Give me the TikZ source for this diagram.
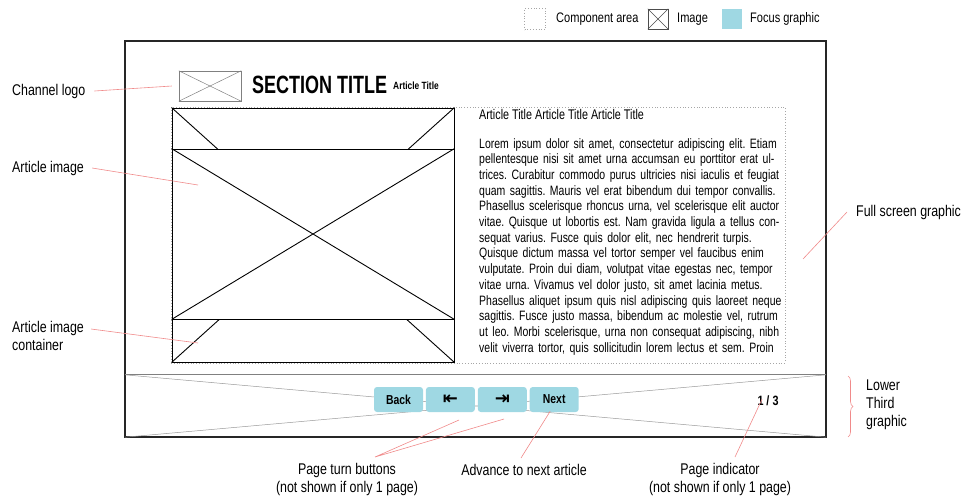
\documentclass[tikz,border=0pt]{standalone}
\usepackage{fontspec}
\setmainfont[FakeStretch=0.8]{Liberation Sans}
\newfontfamily\titlefont[FakeStretch=0.72]{Liberation Sans}
\newfontfamily\bodyfont[FakeStretch=0.77]{Liberation Sans}
\newfontfamily\arrowfont{DejaVu Sans}
\usepackage{xcolor}
\usetikzlibrary{positioning}
\usetikzlibrary{decorations.pathreplacing}
\definecolor{focus}{HTML}{9FD8E3}
\definecolor{callout}{HTML}{F08A8A}
\newcommand{\bline}[1]{\makebox[304pt][s]{#1}}

\tikzset{
  frame/.style={draw=black!85,line width=1.6pt,inner sep=0pt},
  imgbox/.style={draw,line width=0.9pt,fill=white,inner sep=0pt},
  comparea/.style={draw=gray!70,dotted,line width=0.8pt,inner sep=0pt},
  focusbtn/.style={fill=focus,rounded corners=3pt,minimum width=49pt,minimum height=25pt,inner sep=0pt,font=\bfseries\fontsize{13}{13}\selectfont},
  callout/.style={draw=callout,line width=0.6pt},
  lbl/.style={inner sep=0pt,font=\fontsize{15.5}{18}\selectfont},
  leglbl/.style={inner sep=0pt,anchor=west,font=\fontsize{13.8}{16}\selectfont}
}

\begin{document}
\frenchspacing
\begin{tikzpicture}[x=1pt,y=-1pt]
  \useasboundingbox (0,0) rectangle (966,499);

  % legend
  \node[comparea,minimum size=21pt] (legarea) at (535,19) {};
  \node[leglbl] (legareatxt) at (556,19) {Component area};
  \node[draw=black!70,minimum size=20pt,inner sep=0pt] (legimg) at (658,19) {};
  \draw[black!70] (legimg.north west) -- (legimg.south east) (legimg.south west) -- (legimg.north east);
  \node[leglbl] (legimgtxt) at (677,19) {Image};
  \node[fill=focus,minimum size=20pt,inner sep=0pt] (legfocus) at (732,19) {};
  \node[leglbl] (legfocustxt) at (750,19) {Focus graphic};

  % screen and lower third
  \node[frame,minimum width=701pt,minimum height=396pt] (screen) at (475.5,239) {};
  \node[minimum width=701pt,minimum height=62pt,inner sep=0pt] (lowthird) at (475.5,406) {};
  \draw[gray,line width=0.9pt] (lowthird.north west) -- (lowthird.north east);
  \draw[gray!80,line width=0.5pt] (lowthird.north west) -- (lowthird.south east)
    (lowthird.south west) -- (lowthird.north east);

  % header
  \node[draw=gray,line width=0.5pt,minimum width=62pt,minimum height=30pt,inner sep=0pt] (logo) at (210,86) {};
  \draw[gray,line width=0.5pt] (logo.north west) -- (logo.south east) (logo.south west) -- (logo.north east);
  \node[anchor=base west,inner sep=0pt,font=\titlefont\bfseries\fontsize{25}{25}\selectfont] (section) at (252,93) {SECTION TITLE};
  \node[anchor=base west,inner sep=0pt,font=\bfseries\fontsize{10.5}{10.5}\selectfont] (arttitle) at (393,89) {Article Title};

  % article area
  \node[comparea,minimum width=614pt,minimum height=256pt] (comp) at (478,235) {};
  \node[imgbox,minimum width=282pt,minimum height=254pt] (container) at (313,235) {};
  \draw[line width=0.9pt] (container.north west) -- (container.south east)
    (container.south west) -- (container.north east);
  \node[imgbox,minimum width=282pt,minimum height=170pt] (artimg) at (313,234) {};
  \draw[line width=0.9pt] (artimg.north west) -- (artimg.south east)
    (artimg.south west) -- (artimg.north east);

  \node[anchor=base west,inner sep=0pt,font=\bodyfont\fontsize{14}{15.7}\selectfont] (head) at (479,119) {Article Title Article Title Article Title};
  \node[anchor=base west,inner sep=0pt,text width=304pt,align=left,font=\bodyfont\fontsize{13.6}{15.7}\selectfont] (body) at (479,148)
  {\bline{Lorem ipsum dolor sit amet, consectetur adipiscing elit. Etiam}\\
   \bline{pellentesque nisi sit amet urna accumsan eu porttitor erat ul-}\\
   \bline{trices. Curabitur commodo purus ultricies nisi iaculis et feugiat}\\
   \bline{quam sagittis. Mauris vel erat bibendum dui tempor convallis.}\\
   \bline{Phasellus scelerisque rhoncus urna, vel scelerisque elit auctor}\\
   \bline{vitae. Quisque ut lobortis est. Nam gravida ligula a tellus con-}\\
   \bline{sequat varius. Fusce quis dolor elit, nec hendrerit turpis.}\\
   \bline{Quisque dictum massa vel tortor semper vel faucibus enim}\\
   \bline{vulputate. Proin dui diam, volutpat vitae egestas nec, tempor}\\
   \bline{vitae urna. Vivamus vel dolor justo, sit amet lacinia metus.}\\
   \bline{Phasellus aliquet ipsum quis nisl adipiscing quis laoreet neque}\\
   \bline{sagittis. Fusce justo massa, bibendum ac molestie vel, rutrum}\\
   \bline{ut leo. Morbi scelerisque, urna non consequat adipiscing, nibh}\\
   \bline{velit viverra tortor, quis sollicitudin lorem lectus et sem. Proin}};

  % buttons
  \node[focusbtn] (back) at (398.5,399.5) {Back};
  \node[focusbtn,right=2.5pt of back] (first) {\arrowfont\bfseries\fontsize{18}{18}\selectfont ⇤};
  \node[focusbtn,right=2.5pt of first] (last) {\arrowfont\bfseries\fontsize{18}{18}\selectfont ⇥};
  \node[focusbtn,right=2.5pt of last] (next) {Next};
  \node[inner sep=0pt,font=\bfseries\fontsize{13.5}{13.5}\selectfont] (pages) at (768,401) {1 / 3};

  % labels
  \node[lbl,anchor=west] (logolbl) at (12,91) {Channel logo};
  \node[lbl,anchor=west] (imglbl) at (12,168) {Article image};
  \node[lbl,anchor=west,align=left] (contlbl) at (12,336) {Article image\\container};
  \node[lbl,anchor=west] (fulllbl) at (856,212) {Full screen graphic};
  \node[lbl,anchor=west,align=left] (lowlbl) at (866,405) {Lower\\Third\\graphic};
  \node[lbl,align=center] (turnlbl) at (347,479) {Page turn buttons\\(not shown if only 1 page)};
  \node[lbl] (nextlbl) at (524,470) {Advance to next article};
  \node[lbl,align=center] (pagelbl) at (720,479) {Page indicator\\(not shown if only 1 page)};

  % callouts
  \coordinate (turnpt) at (375,457);
  \draw[callout] ([xshift=9pt]logolbl.east) -- ([xshift=-7pt]logo.west);
  \draw[callout] ([xshift=8pt]imglbl.east) -- (198,185);
  \draw[callout] ([xshift=7pt,yshift=7pt]contlbl.east) -- (198,343);
  \draw[callout] ([xshift=-9pt]fulllbl.west) -- (803,259);
  \draw[callout] (turnpt) -- (459,420) (turnpt) -- (504,419);
  \draw[callout] (521,458) -- ([xshift=-4pt,yshift=1pt]next.south);
  \draw[callout] (735,457) -- ([xshift=-6pt,yshift=7pt]pages.south);
  \draw[callout,decorate,decoration={brace,amplitude=5pt}] (848,376) -- (848,437);
\end{tikzpicture}
\end{document}
